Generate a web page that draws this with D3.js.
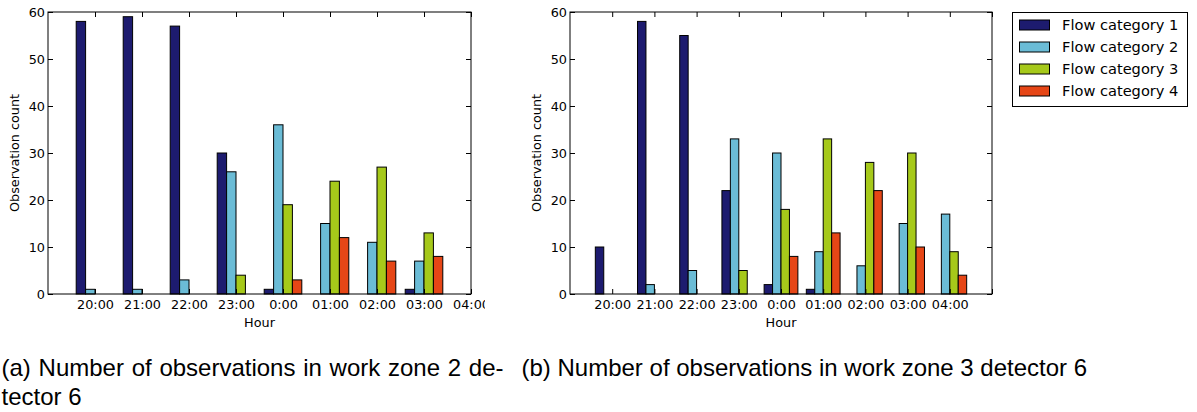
<!DOCTYPE html>
<html>
<head>
<meta charset="utf-8">
<script src="https://cdn.jsdelivr.net/npm/d3@7"></script>
<style>
  body { margin: 0; background: #fff; }
  svg { display: block; }
  .tick text { font-family: "DejaVu Sans", sans-serif; font-size: 12.8px; fill: #000; }
</style>
</head>
<body>
<svg id="chart" width="1197" height="412"></svg>
<script>
// hour labels on the x axis
const hourLabels = ['20:00', '21:00', '22:00', '23:00', '0:00', '01:00', '02:00', '03:00', '04:00'];
const categories = ['Flow category 1', 'Flow category 2', 'Flow category 3', 'Flow category 4'];
const yTicks = [0, 10, 20, 30, 40, 50, 60];

// work zone 2 detector 6 (20:00 .. 03:00)
const zone2Cat1 = [58, 59, 57, 30, 1, 0, 0, 1];
const zone2Cat2 = [1, 1, 3, 26, 36, 15, 11, 7];
const zone2Cat3 = [0, 0, 0, 4, 19, 24, 27, 13];
const zone2Cat4 = [0, 0, 0, 0, 3, 12, 7, 8];

// work zone 3 detector 6 (20:00 .. 04:00)
const zone3Cat1 = [10, 58, 55, 22, 2, 1, 0, 0, 0];
const zone3Cat2 = [0, 2, 5, 33, 30, 9, 6, 15, 17];
const zone3Cat3 = [0, 0, 0, 5, 18, 33, 28, 30, 9];
const zone3Cat4 = [0, 0, 0, 0, 8, 13, 22, 10, 4];

const colors = ['#1d1b6f', '#6bbcd6', '#a6c91a', '#e64616'];

const svg = d3.select('#chart');
const y = d3.scaleLinear().domain([0, 60]).range([294, 12]);
const barW = 0.2;

function panel(series, x, nTicks, clipW) {
  const g = svg.append('g');
  if (clipW) {
    svg.append('clipPath').attr('id', 'clipA')
      .append('rect').attr('x', 0).attr('y', 0).attr('width', clipW).attr('height', 340);
    g.attr('clip-path', 'url(#clipA)');
  }
  const [x0, x1] = x.range();
  const ticks = d3.range(0, nTicks);

  // bars
  series.forEach((vals, k) => {
    g.append('g').selectAll('rect')
      .data(vals.map((v, i) => ({i, v})).filter(d => d.v > 0))
      .enter().append('rect')
      .attr('x', d => x(d.i - 0.4 + k * barW))
      .attr('width', x(barW) - x(0))
      .attr('y', d => y(d.v))
      .attr('height', d => y(0) - y(d.v))
      .attr('fill', colors[k])
      .attr('stroke', '#000')
      .attr('stroke-width', 1);
  });

  const xAxisB = g.append('g').attr('transform', `translate(0,${y(0)})`)
    .call(d3.axisBottom(x).tickValues(ticks).tickSize(-5).tickPadding(6)
      .tickFormat(i => hourLabels[i] || ''));
  const xAxisT = g.append('g').attr('transform', `translate(0,${y(60)})`)
    .call(d3.axisTop(x).tickValues(ticks).tickSize(-5).tickFormat(''));
  const yAxisL = g.append('g').attr('transform', `translate(${x0},0)`)
    .call(d3.axisLeft(y).tickValues(yTicks).tickSize(-5).tickPadding(3));
  const yAxisR = g.append('g').attr('transform', `translate(${x1},0)`)
    .call(d3.axisRight(y).tickValues(yTicks).tickSize(-5).tickFormat(''));
  [xAxisB, xAxisT, yAxisL, yAxisR].forEach(a => {
    a.select('.domain').remove();
    a.selectAll('line').attr('stroke', '#000');
  });

  g.append('rect')
    .attr('x', x0).attr('y', y(60))
    .attr('width', x1 - x0).attr('height', y(0) - y(60))
    .attr('fill', 'none').attr('stroke', '#000').attr('stroke-width', 1);

  g.append('text')
    .attr('x', (x0 + x1) / 2).attr('y', 327)
    .attr('text-anchor', 'middle')
    .style('font-family', '"DejaVu Sans", sans-serif').style('font-size', '12.8px')
    .text('Hour');
  g.append('text')
    .attr('transform', `translate(${x0 - 29},${(y(0) + y(60)) / 2}) rotate(-90)`)
    .attr('text-anchor', 'middle')
    .style('font-family', '"DejaVu Sans", sans-serif').style('font-size', '12.8px')
    .text('Observation count');
}

const xA = d3.scaleLinear().domain([-1, 8]).range([48, 471]);
const xB = d3.scaleLinear().domain([-1, 9]).range([570, 992]);
panel([zone2Cat1, zone2Cat2, zone2Cat3, zone2Cat4], xA, 9, 485);
panel([zone3Cat1, zone3Cat2, zone3Cat3, zone3Cat4], xB, 10, null);

// legend
const legend = svg.append('g');
legend.append('rect')
  .attr('x', 1012.5).attr('y', 12.5).attr('width', 175).attr('height', 94)
  .attr('fill', '#fff').attr('stroke', '#000').attr('stroke-width', 1);
const rowY = d3.scalePoint().domain(categories).range([25, 91]);
categories.forEach((c, k) => {
  legend.append('rect')
    .attr('x', 1019.5).attr('y', rowY(c) - 5)
    .attr('width', 30).attr('height', 10)
    .attr('fill', colors[k]).attr('stroke', '#000').attr('stroke-width', 1);
  legend.append('text')
    .attr('x', 1062).attr('y', rowY(c)).attr('dy', '0.36em')
    .style('font-family', '"DejaVu Sans", sans-serif').style('font-size', '14.6px')
    .text(c);
});

// captions
const capStyle = t => t.style('font-family', '"Liberation Sans", Arial, sans-serif').style('font-size', '24px');
const capA = svg.append('text').attr('x', 1.5).attr('y', 376).call(capStyle)
  .text('(a) Number of observations in work zone 2 de-');
const natural = capA.node().getComputedTextLength();
capA.attr('word-spacing', (502 - natural) / 8);
svg.append('text').attr('x', 1.5).attr('y', 405).call(capStyle).text('tector 6');
svg.append('text').attr('x', 521.5).attr('y', 376).call(capStyle)
  .text('(b) Number of observations in work zone 3 detector 6');
</script>
</body>
</html>
